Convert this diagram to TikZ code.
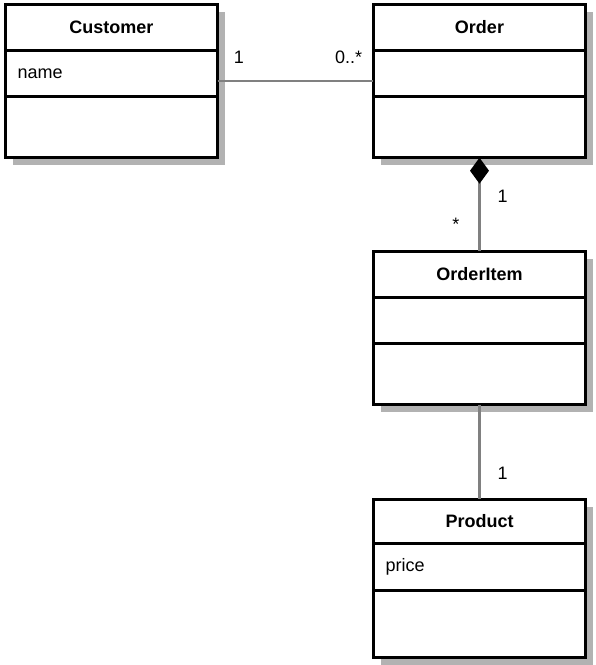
\documentclass[tikz,border=0pt]{standalone}
\usepackage{fontspec}
\setmainfont{Liberation Sans}
\usetikzlibrary{arrows.meta,positioning,fit,shadows,backgrounds}

\begin{document}
\begin{tikzpicture}[
  x=1pt, y=1pt,
  font=\fontsize{18}{22}\selectfont,
  node distance=0pt,
  classpart/.style={draw=black, fill=white, line width=2.8pt, minimum width=212pt,
    outer sep=0pt, inner xsep=12pt, text width=188pt},
  classtitle/.style={classpart, minimum height=46pt, align=center,
    font=\fontsize{18}{22}\selectfont\bfseries},
  classattrs/.style={classpart, minimum height=46pt, align=left},
  classops/.style={classpart, minimum height=61pt},
  classshadow/.style={inner sep=0pt, drop shadow={shadow xshift=7.5pt,
    shadow yshift=-7.5pt, fill=black!30, opacity=1}},
  link/.style={draw=black!50, line width=2.2pt},
  mult/.style={inner sep=2pt}
]
\useasboundingbox (0,0) rectangle (596,-665);
% Customer
\node[classtitle, anchor=north west] (customerTitle) at (5.5,-4.5) {Customer};
\node[classattrs, below=of customerTitle] (customerAttrs) {name};
\node[classops, below=of customerAttrs] (customerOps) {};
% Order
\node[classtitle, right=156pt of customerTitle] (orderTitle) {Order};
\node[classattrs, below=of orderTitle] (orderAttrs) {};
\node[classops, below=of orderAttrs] (orderOps) {};
% OrderItem
\node[classtitle, below=94pt of orderOps] (itemTitle) {OrderItem};
\node[classattrs, below=of itemTitle] (itemAttrs) {};
\node[classops, below=of itemAttrs] (itemOps) {};
% Product
\node[classtitle, minimum height=44pt, below=95pt of itemOps] (productTitle) {Product};
\node[classattrs, minimum height=47pt, below=of productTitle] (productAttrs) {price};
\node[classops, minimum height=67pt, below=of productAttrs] (productOps) {};
% shadows
\begin{scope}[on background layer]
  \node[classshadow, fit=(customerTitle)(customerOps)] (customer) {};
  \node[classshadow, fit=(orderTitle)(orderOps)] (order) {};
  \node[classshadow, fit=(itemTitle)(itemOps)] (item) {};
  \node[classshadow, fit=(productTitle)(productOps)] (product) {};
\end{scope}
% associations
\draw[link] (customer.east) -- (order.west)
  node[mult, pos=0, anchor=south west, xshift=13pt, yshift=14pt] {1}
  node[mult, pos=1, anchor=south east, xshift=-8pt, yshift=14pt] {0..*};
\draw[link, {Diamond[length=26pt, width=19pt, color=black]}-] (order.south) -- (item.north)
  node[mult, pos=0.41, right=15pt] {1}
  node[mult, pos=0.71, left=17pt] {*};
\draw[link] (item.south) -- (product.north)
  node[mult, pos=0.73, right=15pt] {1};
\end{tikzpicture}
\end{document}
